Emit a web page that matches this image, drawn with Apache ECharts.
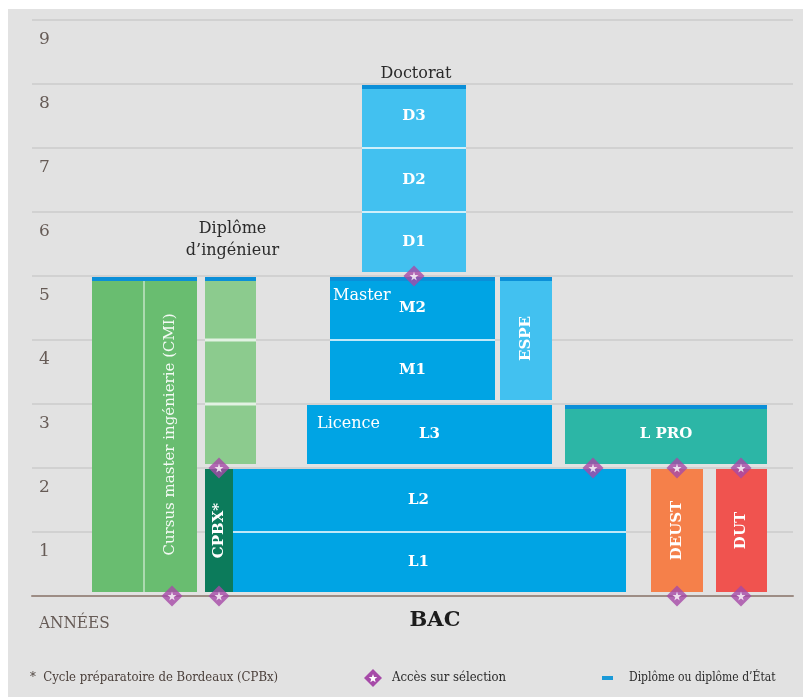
<!DOCTYPE html>
<html>
<head>
<meta charset="utf-8">
<script src="https://cdn.jsdelivr.net/npm/echarts@6/dist/echarts.min.js"></script>
<style>
  html, body { margin: 0; padding: 0; background: #ffffff; }
  #chart { width: 803px; height: 697px; }
</style>
</head>
<body>
<div id="chart"></div>
<script>
// ---------- DATA ----------
const yearTicks = ['ANNÉES', '1', '2', '3', '4', '5', '6', '7', '8', '9'];

const blockNames      = ['CMI', 'Ingénieur', 'CPBX', 'L1-L2', 'L3', 'Master', 'ESPE', 'Doctorat', 'L PRO', 'DEUST', 'DUT'];
const blockXStart     = [60, 173, 173, 201, 275, 298, 468, 330, 533, 619, 684];
const blockXEnd       = [165, 224, 201, 594, 520, 463, 520, 434, 735, 671, 735];
const blockYearStart  = [0, 2, 0, 0, 2, 3, 3, 5, 2, 0, 0];
const blockYearEnd    = [5, 5, 2, 2, 3, 5, 5, 8, 3, 2, 2];
const blockDiploma    = [1, 1, 0, 0, 0, 1, 1, 1, 1, 0, 0];
const blockDivided    = [0, 1, 0, 1, 0, 1, 0, 1, 0, 0, 0];
const blockInnerSplit = [112, null, null, null, null, null, null, null, null, null, null];
const blockCells      = [[], [], [], ['L1', 'L2'], ['L3'], ['M1', 'M2'], [], ['D1', 'D2', 'D3'], ['L PRO'], [], []];
const blockVertical   = ['Cursus master ingénierie (CMI)', '', 'CPBX*', '', '', '', 'ESPE', '', '', 'DEUST', 'DUT'];
const blockTitle      = ['', 'Diplôme\nd\u2019ingénieur', '', '', 'Licence', 'Master', '', 'Doctorat', '', '', ''];

const selectionX    = [382, 187, 561, 645, 709, 140, 187, 645, 709];
const selectionYear = [5, 2, 2, 2, 2, 0, 0, 0, 0];

const legendNote = '*  Cycle préparatoire de Bordeaux (CPBx)';
const legendSelection = 'Accès sur sélection';
const legendDiploma = 'Diplôme ou diplôme d\u2019État';
const baseLabel = 'BAC';

// ---------- STYLES ----------
const FONT = '"DejaVu Serif", serif';
const FONT_C = '"DejaVu Serif Condensed", "DejaVu Serif", serif';
const CAP = '#0b8fd8';
const PURPLE = '#a64aa8';
const blockStyle = {
  'CMI':       { color: '#69bd70' },
  'Ingénieur': { color: '#8ccb8e', gap: 3, titleMode: 'above', titleGap: 15 },
  'CPBX':      { color: '#0c7b5b' },
  'L1-L2':     { color: '#00a4e4', shift: -11 },
  'L3':        { color: '#00a4e4', titleMode: 'inside', titlePad: 10 },
  'Master':    { color: '#00a4e4', titleMode: 'inside', titlePad: 3 },
  'ESPE':      { color: '#42c1f0' },
  'Doctorat':  { color: '#42c1f0', titleMode: 'above', titleGap: 0 },
  'L PRO':     { color: '#2cb6a6' },
  'DEUST':     { color: '#f5804a' },
  'DUT':       { color: '#f0534f' }
};

function starPoints(cx, cy, R, r) {
  const pts = [];
  for (let k = 0; k < 10; k++) {
    const a = -Math.PI / 2 + k * Math.PI / 5;
    const rad = k % 2 === 0 ? R : r;
    pts.push([cx + rad * Math.cos(a), cy + rad * Math.sin(a)]);
  }
  return pts;
}

const chart = echarts.init(document.getElementById('chart'));

function renderBlock(params, api) {
  const i = api.value(0);
  const st = blockStyle[blockNames[i]];
  const p0 = api.coord([blockXStart[i], blockYearEnd[i]]);
  const p1 = api.coord([blockXEnd[i], blockYearStart[i]]);
  const left = p0[0], right = p1[0];
  const top = p0[1] + 1, bottom = p1[1] - 4;
  const w = right - left;
  const children = [{
    type: 'rect', shape: { x: left, y: top, width: w, height: bottom - top },
    style: { fill: st.color }
  }];
  if (blockDiploma[i]) {
    children.push({ type: 'rect', shape: { x: left, y: top, width: w, height: 4 }, style: { fill: CAP } });
  }
  if (blockDivided[i]) {
    for (let y = blockYearStart[i] + 1; y < blockYearEnd[i]; y++) {
      const yy = api.coord([0, y])[1];
      const g = st.gap || 2;
      children.push({ type: 'rect', shape: { x: left, y: yy - g / 2, width: w, height: g },
        style: { fill: 'rgba(255,255,255,0.75)' } });
    }
  }
  let vcx = (left + right) / 2;
  if (blockInnerSplit[i] != null) {
    const sx = api.coord([blockInnerSplit[i], 0])[0];
    children.push({ type: 'rect', shape: { x: sx - 0.75, y: top + 4, width: 1.5, height: bottom - top - 4 },
      style: { fill: 'rgba(255,255,255,0.6)' } });
    vcx = (sx + right) / 2;
  }
  const cells = blockCells[i];
  const n = cells.length;
  cells.forEach(function (txt, k) {
    const ct = (k === n - 1) ? top : api.coord([0, blockYearStart[i] + k + 1])[1];
    const cb = (k === 0) ? bottom : api.coord([0, blockYearStart[i] + k])[1];
    children.push({
      type: 'text', x: (left + right) / 2 + (st.shift || 0), y: (ct + cb) / 2,
      style: { text: txt, fill: '#ffffff', font: 'bold 15px ' + FONT, align: 'center', verticalAlign: 'middle' }
    });
  });
  if (blockVertical[i]) {
    const isLong = blockVertical[i].length > 10;
    children.push({
      type: 'text', x: vcx, y: (top + bottom) / 2, rotation: Math.PI / 2,
      style: {
        text: blockVertical[i], fill: isLong ? 'rgba(255,255,255,0.92)' : '#ffffff',
        font: (isLong ? '' : 'bold ') + '15px ' + FONT, align: 'center', verticalAlign: 'middle'
      }
    });
  }
  if (blockTitle[i]) {
    if (st.titleMode === 'inside') {
      children.push({
        type: 'text', x: left + st.titlePad, y: top + 19,
        style: { text: blockTitle[i], fill: '#ffffff', font: '16px ' + FONT, align: 'left', verticalAlign: 'middle' }
      });
    } else {
      children.push({
        type: 'text', x: (left + right) / 2 + 2, y: top - st.titleGap,
        style: { text: blockTitle[i], fill: '#2a2a2a', font: '16px ' + FONT, align: 'center',
          verticalAlign: 'bottom', lineHeight: 22 }
      });
    }
  }
  return { type: 'group', children: children };
}

const starPath = 'path://M50,0 L61,35 L98,35 L68,57 L79,91 L50,70 L21,91 L32,57 L2,35 L39,35 Z';

const option = {
  backgroundColor: '#e2e2e2',
  animation: false,
  grid: { left: 32, right: 10, top: 20, bottom: 101 },
  xAxis: {
    type: 'value', min: 0, max: 761,
    axisLine: { show: true, lineStyle: { color: '#9d8d85', width: 2 } },
    axisTick: { show: false }, axisLabel: { show: false }, splitLine: { show: false }
  },
  yAxis: {
    type: 'value', min: 0, max: 9, interval: 1,
    axisLine: { show: false }, axisTick: { show: false },
    splitLine: { lineStyle: { color: '#cbcbcb', width: 1.5 } },
    axisLabel: {
      inside: true, margin: 7, verticalAlign: 'top', padding: [11, 0, 0, 0],
      color: '#665b56', fontFamily: FONT, fontSize: 17,
      formatter: function (v) { return v === 0 ? '{a|' + yearTicks[0] + '}' : yearTicks[v]; },
      rich: { a: { fontFamily: FONT_C, fontSize: 17, color: '#665b56', padding: [8, 0, 0, 0] } }
    }
  },
  series: [
    {
      type: 'custom', renderItem: renderBlock, clip: false, z: 3,
      encode: { x: 1, y: 2 },
      data: blockNames.map(function (_, i) { return [i, blockXStart[i], blockYearStart[i]]; })
    },
    {
      type: 'scatter', symbol: 'diamond', symbolSize: [21, 21], silent: true, z: 5,
      itemStyle: { color: PURPLE },
      data: selectionX.map(function (x, i) { return [x, selectionYear[i]]; })
    },
    {
      type: 'scatter', symbol: starPath, symbolSize: 9, silent: true, z: 6,
      itemStyle: { color: '#ffffff' },
      data: selectionX.map(function (x, i) { return [x, selectionYear[i]]; })
    }
  ],
  graphic: [
    { type: 'rect', left: 0, top: 0, shape: { width: 803, height: 9 }, style: { fill: '#ffffff' }, silent: true },
    { type: 'rect', left: 0, top: 0, shape: { width: 8, height: 697 }, style: { fill: '#ffffff' }, silent: true },
    { type: 'text', x: 435, y: 621, style: { text: baseLabel, fill: '#1c1c1c', font: 'bold 21px ' + FONT,
        align: 'center', verticalAlign: 'middle' } },
    { type: 'text', x: 30, y: 678, style: { text: legendNote, fill: '#4a3f3a', font: '13px ' + FONT_C,
        align: 'left', verticalAlign: 'middle' } },
    { type: 'polygon', shape: { points: [[373, 669], [382, 678], [373, 687], [364, 678]] }, style: { fill: PURPLE } },
    { type: 'polygon', shape: { points: starPoints(373, 678.5, 4.5, 1.9) }, style: { fill: '#ffffff' } },
    { type: 'text', x: 392, y: 678, style: { text: legendSelection, fill: '#2a2a2a', font: '13px ' + FONT_C,
        align: 'left', verticalAlign: 'middle' } },
    { type: 'rect', shape: { x: 602, y: 676, width: 11, height: 4 }, style: { fill: '#1a9ad8' } },
    { type: 'text', x: 629, y: 678, style: { text: legendDiploma, fill: '#2a2a2a', font: '12px ' + FONT_C,
        align: 'left', verticalAlign: 'middle' } }
  ]
};

chart.setOption(option);
</script>
</body>
</html>
